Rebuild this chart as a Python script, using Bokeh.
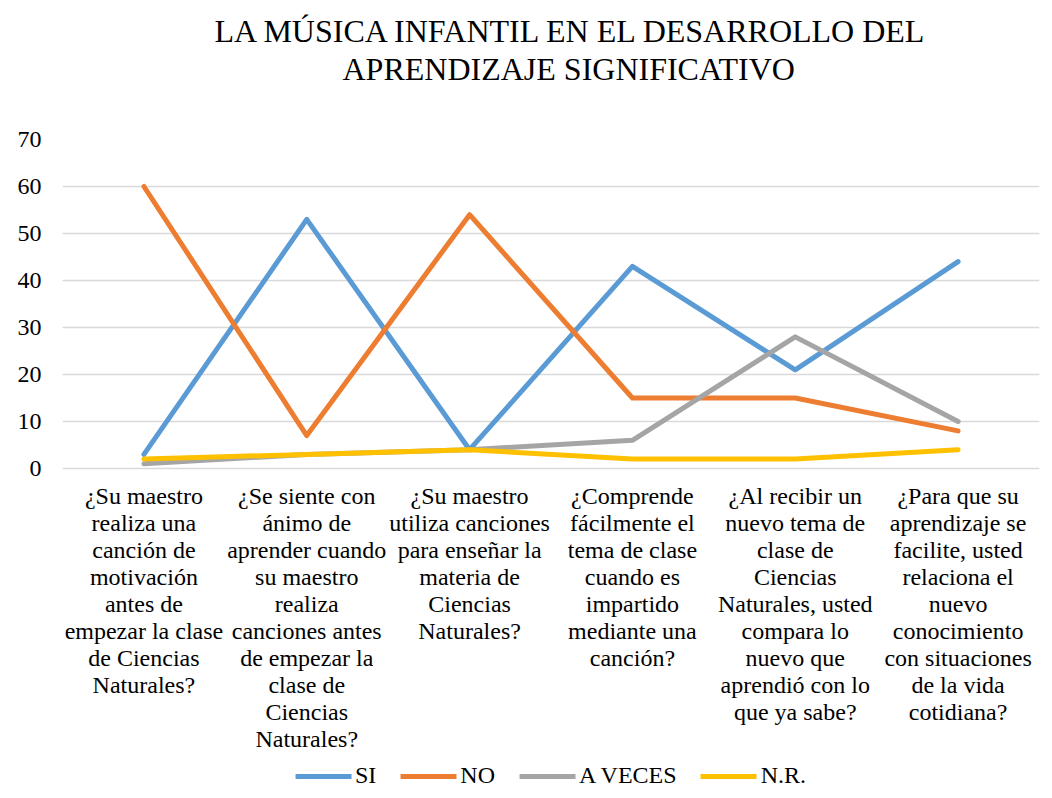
from bokeh.plotting import figure
from bokeh.models import Title, Legend, LegendItem, FixedTicker, Range1d
from bokeh.core.properties import value
from bokeh.embed import file_html
from bokeh.resources import INLINE

categories = [
    "¿Su maestro\nrealiza una\ncanción de\nmotivación\nantes de\nempezar la clase\nde Ciencias\nNaturales?",
    "¿Se siente con\nánimo de\naprender cuando\nsu maestro\nrealiza\ncanciones antes\nde empezar la\nclase de\nCiencias\nNaturales?",
    "¿Su maestro\nutiliza canciones\npara enseñar la\nmateria de\nCiencias\nNaturales?",
    "¿Comprende\nfácilmente el\ntema de clase\ncuando es\nimpartido\nmediante una\ncanción?",
    "¿Al recibir un\nnuevo tema de\nclase de\nCiencias\nNaturales, usted\ncompara lo\nnuevo que\naprendió con lo\nque ya sabe?",
    "¿Para que su\naprendizaje se\nfacilite, usted\nrelaciona el\nnuevo\nconocimiento\ncon situaciones\nde la vida\ncotidiana?",
]
si = [3, 53, 4, 43, 21, 44]
no = [60, 7, 54, 15, 15, 8]
a_veces = [1, 3, 4, 6, 28, 10]
nr = [2, 3, 4, 2, 2, 4]
series_names = ["SI", "NO", "A VECES", "N.R."]
colors = ["#5B9BD5", "#ED7D31", "#A5A5A5", "#FFC000"]
y_ticks = [0, 10, 20, 30, 40, 50, 60, 70]
title_lines = ["LA MÚSICA INFANTIL EN EL DESARROLLO DEL", "APRENDIZAJE SIGNIFICATIVO"]

FONT = "Liberation Serif"
xs = list(range(1, len(categories) + 1))

# layout (pixels): value axis 0..70 spans 329 px; the plot area continues below
# the zero line to hold the category labels and the legend
TOP = 139
AXIS_PX = 329
FRAME_H = 798 - TOP
y_max = y_ticks[-1]
px_per_unit = AXIS_PX / y_max
y_min = y_max - FRAME_H / px_per_unit
label_top = -14 / px_per_unit   # category labels start 14 px below the zero line

p = figure(frame_width=977, frame_height=FRAME_H, output_backend="svg", toolbar_location=None,
           title=title_lines[0], x_axis_location=None,
           x_range=Range1d(0.5, len(categories) + 0.5), y_range=Range1d(y_min, y_max))
p.title.align = "left"
p.title.offset = 152
p.title.text_font = FONT
p.title.text_font_size = "32px"
p.title.text_font_style = "normal"
p.title.text_color = "black"
p.title.standoff = 0
# spacer between the title and the plot area (added first = closest to the plot)
p.add_layout(Title(text=" ", text_font_size="1px", standoff=50), "above")
p.add_layout(Title(text=title_lines[1], align="left", offset=280,
                   text_font=FONT, text_font_size="32px", text_font_style="normal",
                   text_color="black", standoff=0), "above")

p.min_border_left = 62
p.min_border_right = 13
p.min_border_top = TOP
p.min_border_bottom = 0
p.outline_line_color = None
p.border_fill_color = "white"

renderers = []
for name, vals, c in zip(series_names, [si, no, a_veces, nr], colors):
    r = p.line(xs, vals, line_color=c, line_width=5, line_cap="round", line_join="round")
    renderers.append((name, r))

# category labels (multi-line) under the zero line
p.text(x=xs, y=[label_top] * len(xs), text=categories,
       text_align="center", text_baseline="top",
       text_font=value(FONT), text_font_size="24px", text_color="black",
       text_line_height=1.04)

p.yaxis.ticker = FixedTicker(ticks=y_ticks)
p.yaxis.major_label_text_font = FONT
p.yaxis.major_label_text_font_size = "24px"
p.yaxis.major_label_text_color = "black"
p.yaxis.major_label_standoff = 15
p.yaxis.major_tick_line_color = None
p.yaxis.minor_tick_line_color = None
p.yaxis.axis_line_color = None

p.xgrid.grid_line_color = None
p.ygrid.grid_line_color = "#D9D9D9"
p.ygrid.grid_line_width = 1.5

legend = Legend(items=[LegendItem(label=n, renderers=[r]) for n, r in renderers],
                orientation="horizontal", location="bottom_center",
                label_text_font=FONT, label_text_font_size="24px", label_text_color="black",
                glyph_width=56, label_standoff=4, spacing=24,
                border_line_color=None, background_fill_alpha=0, margin=9, padding=4)
p.add_layout(legend, "center")

open("out.html", "w").write(file_html(p, INLINE))
